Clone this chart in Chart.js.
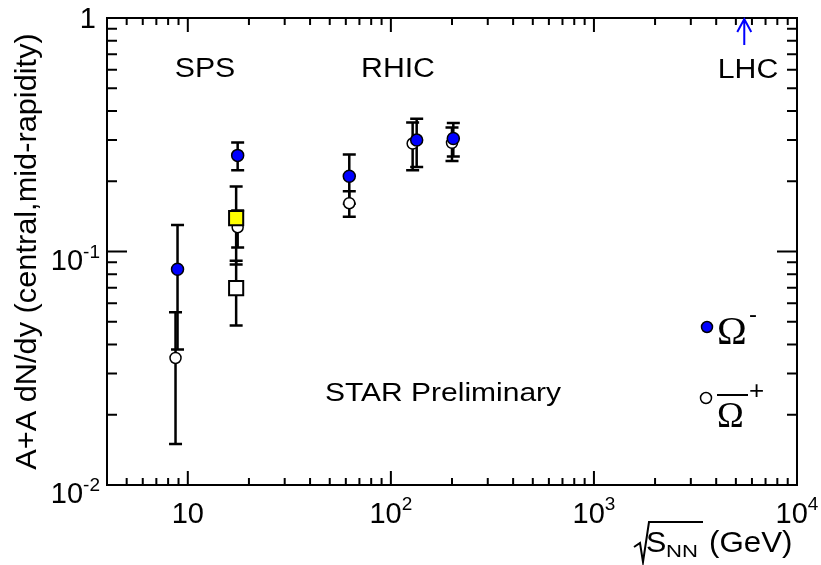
<!DOCTYPE html>
<html>
<head>
<meta charset="utf-8">
<title>Omega yields vs energy</title>
<script src="https://cdn.jsdelivr.net/npm/chart.js@4/dist/chart.umd.min.js"></script>
<style>
  html, body { margin: 0; padding: 0; background: #fff; }
  #wrap { width: 821px; height: 565px; }
</style>
</head>
<body>
<div id="wrap"><canvas id="omegaChart" width="821" height="565"></canvas></div>
<script>
// Omega- (STAR / NA49), dN/dy at mid-rapidity with errors
var omMinusX   = [8.9, 17.6, 62.4, 134, 203];
var omMinusY   = [0.084, 0.258, 0.21, 0.30, 0.305];
var omMinusErr = [0.046, 0.035, 0.05, 0.07, 0.05];

// anti-Omega+ (open circles)
var omPlusX   = [8.7, 17.6, 62.4, 128, 200];
var omPlusY   = [0.035, 0.127, 0.161, 0.29, 0.292];
var omPlusErr = [0.020, 0.023, 0.02, 0.067, 0.048];

// NA57 at top SPS energy (squares)
var na57MinusX = [17.3], na57MinusY = [0.139], na57MinusErr = [0.051];
var na57PlusX  = [17.3], na57PlusY  = [0.0697], na57PlusErr  = [0.0215];

var lhcEnergy = 5500;

// axis decorations
var xTickValues = [10, 100, 1000, 10000];
var xTickLabels = [['10', ''], ['10', '2'], ['10', '3'], ['10', '4']];
var yTickValues = [0.01, 0.1, 1];
var yTickLabels = [['10', '-2'], ['10', '-1'], ['1', '']];

var FONT = '"Liberation Sans", Arial, sans-serif';
var SERIF = '"Liberation Serif", "Times New Roman", serif';

function points(xs, ys, errs) {
  return xs.map(function (x, i) { return { x: x, y: ys[i], err: errs[i] }; });
}

// draw text squeezed/stretched horizontally like the ROOT canvas
function drawText(ctx, str, x, y, size, sx, align, family) {
  ctx.save();
  ctx.font = size + 'px ' + (family || FONT);
  var w = ctx.measureText(str).width * sx;
  var x0 = align === 'center' ? x - w / 2 : (align === 'right' ? x - w : x);
  ctx.translate(x0, y);
  ctx.scale(sx, 1);
  ctx.textAlign = 'left';
  ctx.textBaseline = 'alphabetic';
  ctx.fillStyle = '#000';
  ctx.fillText(str, 0, 0);
  ctx.restore();
  return w;
}

function textWidth(ctx, str, size, sx) {
  ctx.save();
  ctx.font = size + 'px ' + FONT;
  var w = ctx.measureText(str).width * sx;
  ctx.restore();
  return w;
}

var errorBars = {
  id: 'errorBars',
  beforeDatasetsDraw: function (chart) {
    var ctx = chart.ctx, y = chart.scales.y;
    ctx.save();
    ctx.strokeStyle = '#000';
    ctx.lineWidth = 2.5;
    chart.data.datasets.forEach(function (ds, di) {
      var meta = chart.getDatasetMeta(di);
      meta.data.forEach(function (el, i) {
        var p = ds.data[i];
        var top = y.getPixelForValue(p.y + p.err);
        var bot = y.getPixelForValue(p.y - p.err);
        ctx.beginPath();
        ctx.moveTo(el.x, top); ctx.lineTo(el.x, bot);
        ctx.moveTo(el.x - 6.5, top); ctx.lineTo(el.x + 6.5, top);
        ctx.moveTo(el.x - 6.5, bot); ctx.lineTo(el.x + 6.5, bot);
        ctx.stroke();
      });
    });
    ctx.restore();
  }
};

var frameAndText = {
  id: 'frameAndText',
  afterDraw: function (chart) {
    var ctx = chart.ctx, a = chart.chartArea;
    var xs = chart.scales.x, ys = chart.scales.y;
    ctx.save();
    ctx.strokeStyle = '#000';
    ctx.lineWidth = 2;
    ctx.strokeRect(a.left, a.top, a.right - a.left, a.bottom - a.top);

    // log ticks pointing inwards on all four sides
    ctx.beginPath();
    for (var n = 0; n <= 4; n++) {
      for (var k = 1; k <= 9; k++) {
        var v = k * Math.pow(10, n);
        if (v < xs.min || v > xs.max) continue;
        var px = xs.getPixelForValue(v), len = k === 1 ? 14 : 7;
        ctx.moveTo(px, a.bottom); ctx.lineTo(px, a.bottom - len);
        ctx.moveTo(px, a.top); ctx.lineTo(px, a.top + len);
      }
    }
    for (var m = -2; m <= 0; m++) {
      for (var j = 1; j <= 9; j++) {
        var w = j * Math.pow(10, m);
        if (w < ys.min * 0.999 || w > ys.max * 1.001) continue;
        var py = ys.getPixelForValue(w), ln = j === 1 ? 20 : 10;
        ctx.moveTo(a.left, py); ctx.lineTo(a.left + ln, py);
        ctx.moveTo(a.right, py); ctx.lineTo(a.right - ln, py);
      }
    }
    ctx.stroke();

    // tick labels with exponents
    var baseSize = 29, supSize = 19;
    xTickValues.forEach(function (v, i) {
      var lab = xTickLabels[i];
      var wb = textWidth(ctx, lab[0], baseSize, 1);
      var we = lab[1] ? textWidth(ctx, lab[1], supSize, 1) : 0;
      var x0 = xs.getPixelForValue(v) - (wb + we) / 2;
      drawText(ctx, lab[0], x0, a.bottom + 38, baseSize, 1, 'left');
      if (lab[1]) drawText(ctx, lab[1], x0 + wb, a.bottom + 25, supSize, 1, 'left');
    });
    yTickValues.forEach(function (v, i) {
      var lab = yTickLabels[i];
      var py = ys.getPixelForValue(v);
      var wb = textWidth(ctx, lab[0], baseSize, 1);
      var we = lab[1] ? textWidth(ctx, lab[1], supSize, 1) : 0;
      if (lab[1]) {
        var x0 = a.left - 7 - wb - we;
        drawText(ctx, lab[0], x0, py + 18, baseSize, 1, 'left');
        drawText(ctx, lab[1], x0 + wb, py + 6, supSize, 1, 'left');
      } else {
        drawText(ctx, lab[0], a.left - 11, py + 10, baseSize, 1, 'right');
      }
    });

    // y axis title
    ctx.save();
    ctx.translate(36, (a.top + a.bottom) / 2);
    ctx.rotate(-Math.PI / 2);
    drawText(ctx, 'A+A dN/dy (central,mid-rapidity)', 0, 0, 29, 1.06, 'center');
    ctx.restore();

    // x axis title: sqrt(s_NN) (GeV)
    ctx.beginPath();
    ctx.moveTo(634, 547); ctx.lineTo(640, 543);
    ctx.lineTo(643, 562); ctx.lineTo(649, 522); ctx.lineTo(703, 522);
    ctx.stroke();
    drawText(ctx, 'S', 646, 552, 29, 1.05, 'left');
    drawText(ctx, 'NN', 666, 557, 17, 1.3, 'left');
    drawText(ctx, '(GeV)', 709, 552, 29, 1.08, 'left');

    // region labels
    drawText(ctx, 'SPS', 205, 77, 27, 1.12, 'center');
    drawText(ctx, 'RHIC', 398, 77, 27, 1.12, 'center');
    drawText(ctx, 'LHC', 748, 78, 27, 1.12, 'center');
    drawText(ctx, 'STAR Preliminary', 443, 401, 25, 1.2, 'center');

    // LHC energy arrow
    var ax = xs.getPixelForValue(lhcEnergy);
    ctx.strokeStyle = '#0000ff';
    ctx.beginPath();
    ctx.moveTo(ax, a.top + 1); ctx.lineTo(ax, a.top + 27);
    ctx.moveTo(ax - 7, a.top + 14); ctx.lineTo(ax, a.top + 1); ctx.lineTo(ax + 7, a.top + 14);
    ctx.stroke();

    // legend
    ctx.strokeStyle = '#000';
    ctx.lineWidth = 1.5;
    ctx.beginPath(); ctx.arc(707, 327, 5.5, 0, 2 * Math.PI);
    ctx.fillStyle = '#0000ff'; ctx.fill(); ctx.stroke();
    ctx.beginPath(); ctx.arc(706, 398, 5.5, 0, 2 * Math.PI);
    ctx.fillStyle = '#fff'; ctx.fill(); ctx.stroke();
    drawText(ctx, '\u03A9', 717, 344, 40, 1, 'left', SERIF);
    drawText(ctx, '-', 749, 322, 24, 1, 'left');
    drawText(ctx, '\u03A9', 717, 427, 36, 1, 'left', SERIF);
    drawText(ctx, '+', 749, 399, 26, 1, 'left');
    ctx.lineWidth = 2;
    ctx.beginPath(); ctx.moveTo(717, 395); ctx.lineTo(748, 395); ctx.stroke();
    ctx.restore();
  }
};

new Chart(document.getElementById('omegaChart'), {
  type: 'scatter',
  data: {
    datasets: [{
      label: '\u03A9-',
      data: points(omMinusX, omMinusY, omMinusErr),
      pointStyle: 'circle', pointRadius: 6, borderWidth: 1.5,
      backgroundColor: '#0000ff', borderColor: '#000'
    }, {
      label: 'NA57 \u03A9-',
      data: points(na57MinusX, na57MinusY, na57MinusErr),
      pointStyle: 'rect', pointRadius: 10, borderWidth: 2,
      backgroundColor: '#ffff00', borderColor: '#000'
    }, {
      label: 'anti-\u03A9+',
      data: points(omPlusX, omPlusY, omPlusErr),
      pointStyle: 'circle', pointRadius: 5.5, borderWidth: 1.5,
      backgroundColor: '#fff', borderColor: '#000'
    }, {
      label: 'NA57 anti-\u03A9+',
      data: points(na57PlusX, na57PlusY, na57PlusErr),
      pointStyle: 'rect', pointRadius: 10, borderWidth: 2,
      backgroundColor: '#fff', borderColor: '#000'
    }]
  },
  options: {
    responsive: false,
    animation: false,
    devicePixelRatio: 1,
    layout: { padding: { left: 107, top: 18, right: 24, bottom: 80 } },
    plugins: { legend: { display: false }, tooltip: { enabled: false } },
    scales: {
      x: { type: 'logarithmic', min: 4, max: 10000, display: false },
      y: { type: 'logarithmic', min: 0.01, max: 1, display: false }
    }
  },
  plugins: [errorBars, frameAndText]
});
</script>
</body>
</html>
